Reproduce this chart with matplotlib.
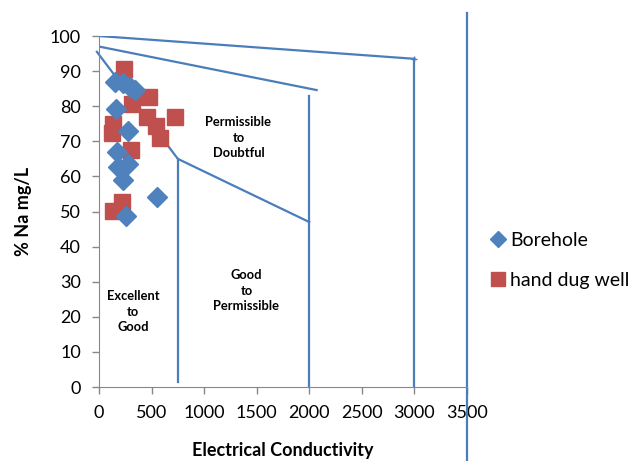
import matplotlib.pyplot as plt

# borehole samples (EC, %Na)
bh_ec = [153, 232, 296, 344, 162, 280, 169, 184, 273, 232, 550, 254]
bh_na = [87, 86.5, 85.6, 84.5, 79.1, 73, 67, 62.8, 63.5, 59, 54.2, 48.7]

# hand dug well samples
hd_ec = [241, 312, 477, 455, 719, 541, 137, 120, 576, 308, 223, 137]
hd_na = [90.5, 80.5, 82.7, 77, 77, 74.4, 75, 72.5, 70.8, 67.5, 52.8, 50.1]

# Wilcox boundary lines
top_x, top_y = [0, 3000], [100, 93.5]
mid_x, mid_y = [0, 2070], [97, 84.6]
low_x, low_y = [-20, 750, 2000], [95.5, 65, 47]

xticks = [0, 500, 1000, 1500, 2000, 2500, 3000, 3500]
yticks = list(range(0, 101, 10))

plt.rcParams['font.family'] = ['Lato', 'DejaVu Sans']

line_c = '#4a7ebb'
fig = plt.figure(figsize=(6.41, 4.61), dpi=100)
ax = fig.add_axes([0.1544, 0.1605, 0.5741, 0.7614])

ax.plot(top_x, top_y, color=line_c, lw=1.6)
ax.plot([3000], [93.5], marker='+', color=line_c, ms=5)
ax.plot(mid_x, mid_y, color=line_c, lw=1.6)
ax.plot(low_x, low_y, color=line_c, lw=1.6, clip_on=False)
ax.plot([750, 750], [65, 1.5], color=line_c, lw=1.6)
ax.plot([2000, 2000], [83, 0], color=line_c, lw=1.6)
ax.plot([3000, 3000], [93.5, 0], color=line_c, lw=1.6)
ax.plot([3500, 3500], [-21, 106.5], color=line_c, lw=1.6, clip_on=False)

ax.plot(hd_ec, hd_na, ls='', marker='s', ms=12, color='#c0504d',
        label='hand dug well', clip_on=False)
ax.plot(bh_ec, bh_na, ls='', marker='D', ms=10, color='#4f81bd',
        label='Borehole', clip_on=False)

zone_kw = dict(ha='center', va='center', fontsize=9.3, fontweight='bold', linespacing=1.35)
ax.text(1326, 71, 'Permissible\nto\nDoubtful', **zone_kw)
ax.text(1403, 27.4, 'Good\nto\nPermissible', **zone_kw)
ax.text(324, 21.4, 'Excellent\nto\nGood', **zone_kw)

ax.set_xlim(0, 3500)
ax.set_ylim(0, 100)
ax.set_xticks(xticks)
ax.set_yticks(yticks)
ax.tick_params(labelsize=13, color='#888888', length=5, width=1, pad=8)
for s in ['top', 'right']:
    ax.spines[s].set_visible(False)
for s in ['left', 'bottom']:
    ax.spines[s].set_color('#888888')

ax.set_xlabel('Electrical Conductivity', fontsize=13, fontweight='bold', labelpad=15)
ax.set_ylabel('% Na mg/L', fontsize=13, fontweight='bold', labelpad=13)

h, l = ax.get_legend_handles_labels()
leg = fig.legend(h[::-1], l[::-1], loc='center left', bbox_to_anchor=(0.735, 0.435),
                 frameon=False, fontsize=14, handletextpad=0.1, labelspacing=1.2,
                 handlelength=1.0, markerscale=0.8)

fig.savefig('out.png', dpi=100)
